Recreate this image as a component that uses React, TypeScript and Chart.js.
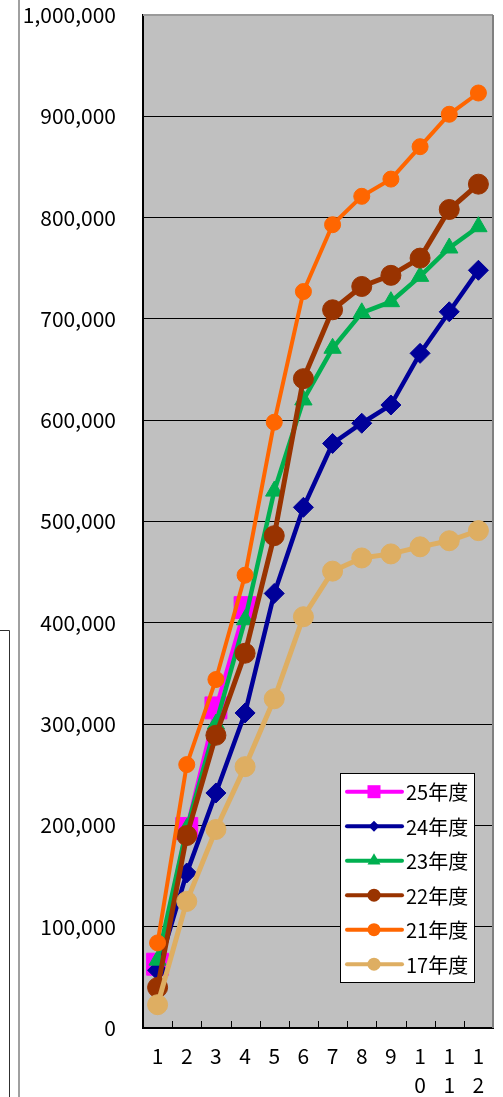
import React, { useEffect, useRef } from 'react';
import { Chart, registerables } from 'chart.js';

Chart.register(...registerables);

// ---- data ----
const months: (string | string[])[] = ['1', '2', '3', '4', '5', '6', '7', '8', '9', ['1', '0'], ['1', '1'], ['1', '2']];
const seriesNames = ['25年度', '24年度', '23年度', '22年度', '21年度', '17年度'];
const fy25 = [63000, 197000, 316000, 415000];
const fy24 = [57000, 153000, 232000, 311000, 429000, 514000, 577000, 597000, 615000, 666000, 707000, 748000];
const fy23 = [67000, 197000, 300000, 403000, 530000, 620000, 671000, 706000, 717000, 742000, 770000, 791000];
const fy22 = [40000, 190000, 289000, 370000, 486000, 641000, 709000, 732000, 743000, 760000, 808000, 833000];
const fy21 = [84000, 260000, 344000, 447000, 598000, 727000, 793000, 821000, 838000, 870000, 902000, 923000];
const fy17 = [23000, 125000, 196000, 258000, 325000, 406000, 451000, 464000, 468000, 475000, 481000, 491000];
const yTicks = [0, 100000, 200000, 300000, 400000, 500000, 600000, 700000, 800000, 900000, 1000000];

const FONT = "'Noto Sans CJK JP', 'Noto Sans', sans-serif";
const W = 503;
const H = 1097;

function drawMarker(ctx: CanvasRenderingContext2D, style: string, x: number, y: number, r: number) {
  ctx.beginPath();
  if (style === 'circle') {
    ctx.arc(x, y, r, 0, Math.PI * 2);
  } else if (style === 'rect') {
    ctx.rect(x - r, y - r, 2 * r, 2 * r);
  } else if (style === 'rectRot') {
    ctx.moveTo(x - r, y);
    ctx.lineTo(x, y - r);
    ctx.lineTo(x + r, y);
    ctx.lineTo(x, y + r);
    ctx.closePath();
  } else if (style === 'triangle') {
    ctx.moveTo(x, y - r);
    ctx.lineTo(x + 0.866 * r, y + 0.5 * r);
    ctx.lineTo(x - 0.866 * r, y + 0.5 * r);
    ctx.closePath();
  }
  ctx.fill();
}

const decoPlugin = {
  id: 'deco',
  beforeDraw(chart: any) {
    const { ctx, chartArea: ca } = chart;
    ctx.save();
    ctx.fillStyle = '#C0C0C0';
    ctx.fillRect(ca.left, ca.top, ca.right - ca.left, ca.bottom - ca.top);
    // stray spreadsheet frame lines on the left
    ctx.strokeStyle = '#808080';
    ctx.lineWidth = 1.5;
    ctx.beginPath();
    ctx.moveTo(19, 0);
    ctx.lineTo(19, chart.height);
    ctx.stroke();
    ctx.strokeStyle = '#303030';
    ctx.lineWidth = 1;
    ctx.beginPath();
    ctx.moveTo(0, 630.5);
    ctx.lineTo(9.5, 630.5);
    ctx.lineTo(9.5, chart.height);
    ctx.stroke();
    ctx.restore();
  },
  afterDraw(chart: any) {
    const { ctx, chartArea: ca } = chart;
    ctx.save();
    // top & right frame
    ctx.strokeStyle = '#9a9a9a';
    ctx.lineWidth = 2;
    ctx.beginPath();
    ctx.moveTo(ca.left, ca.top);
    ctx.lineTo(ca.right, ca.top);
    ctx.stroke();
    ctx.strokeStyle = '#808080';
    ctx.beginPath();
    ctx.moveTo(ca.right, ca.top);
    ctx.lineTo(ca.right, ca.bottom);
    ctx.stroke();
    // inner tick marks on category axis
    ctx.strokeStyle = '#000';
    ctx.lineWidth = 1;
    const n = months.length;
    const step = (ca.right - ca.left) / n;
    for (let i = 1; i < n; i++) {
      const x = Math.round(ca.left + i * step) + 0.5;
      ctx.beginPath();
      ctx.moveTo(x, ca.bottom);
      ctx.lineTo(x, ca.bottom - 7);
      ctx.stroke();
    }
    // legend box
    const lx = ca.right - 153;
    const ly = ca.bottom - 255;
    const lw = 134;
    const lh = 209;
    ctx.fillStyle = '#fff';
    ctx.fillRect(lx, ly, lw, lh);
    ctx.strokeStyle = '#000';
    ctx.lineWidth = 1;
    ctx.strokeRect(lx + 0.5, ly + 0.5, lw, lh);
    const legendR: Record<string, number> = { rect: 6.5, rectRot: 5.5, triangle: 7.5, circle: 6.5 };
    chart.data.datasets.forEach((ds: any, k: number) => {
      const cy = ly + 18.7 + 34.5 * k;
      ctx.strokeStyle = ds.borderColor;
      ctx.lineWidth = 4;
      ctx.lineCap = 'round';
      ctx.beginPath();
      ctx.moveTo(lx + 7, cy);
      ctx.lineTo(lx + 62, cy);
      ctx.stroke();
      ctx.fillStyle = ds.borderColor;
      drawMarker(ctx, ds.pointStyle, lx + 34, cy, legendR[ds.pointStyle]);
      ctx.fillStyle = '#000';
      ctx.font = `20px ${FONT}`;
      ctx.textAlign = 'left';
      ctx.textBaseline = 'middle';
      ctx.fillText(ds.label, lx + 66, cy + 1);
    });
    ctx.restore();
  },
};

function mk(label: string, data: number[], color: string, style: string, radius: number, width: number, order: number) {
  return {
    label,
    data,
    borderColor: color,
    backgroundColor: color,
    pointBackgroundColor: color,
    pointBorderColor: color,
    pointBorderWidth: 1,
    pointStyle: style,
    pointRadius: radius,
    borderWidth: width,
    tension: 0,
    order,
  };
}

export default function App() {
  const ref = useRef<HTMLCanvasElement | null>(null);
  useEffect(() => {
    if (!ref.current) return;
    const chart = new Chart(ref.current, {
      type: 'line',
      data: {
        labels: months as any,
        datasets: [
          mk(seriesNames[0], fy25, '#FF00FF', 'rect', 15.5, 4, 5),
          mk(seriesNames[1], fy24, '#000099', 'rectRot', 10, 4.5, 4),
          mk(seriesNames[2], fy23, '#00B050', 'triangle', 10, 4.5, 3),
          mk(seriesNames[3], fy22, '#993300', 'circle', 10, 5, 2),
          mk(seriesNames[4], fy21, '#FF6600', 'circle', 8, 4, 1),
          mk(seriesNames[5], fy17, '#DEAE62', 'circle', 10, 5, 0),
        ] as any,
      },
      options: {
        animation: false,
        responsive: false,
        devicePixelRatio: 1,
        layout: { autoPadding: false, padding: { left: 0, right: 10, top: 15, bottom: 0 } },
        plugins: { legend: { display: false }, tooltip: { enabled: false } },
        scales: {
          x: {
            type: 'category',
            offset: true,
            grid: {
              display: true,
              drawOnChartArea: false,
              drawTicks: true,
              tickLength: 14,
              tickColor: 'rgba(0,0,0,0)',
              color: 'rgba(0,0,0,0)',
            },
            border: { display: true, color: '#000', width: 2 },
            ticks: {
              color: '#000',
              font: { family: FONT, size: 21, lineHeight: 1.35 },
              padding: 0,
              maxRotation: 0,
              autoSkip: false,
            },
            afterFit: (s: any) => {
              s.height = 69;
              s.paddingLeft = 0;
              s.paddingRight = 0;
            },
          },
          y: {
            min: 0,
            max: 1000000,
            afterBuildTicks: (s: any) => { s.ticks = yTicks.map((v) => ({ value: v })); },
            grid: {
              color: '#000',
              lineWidth: 1,
              drawTicks: true,
              tickLength: 27,
              tickColor: 'rgba(0,0,0,0)',
            },
            border: { display: true, color: '#000', width: 2 },
            ticks: {
              color: '#000',
              font: { family: FONT, size: 21 },
              padding: 0,
              callback: (v: any) => Number(v).toLocaleString('en-US'),
            },
            afterFit: (s: any) => { s.width = 143; },
          },
        },
      },
      plugins: [decoPlugin],
    });
    return () => chart.destroy();
  }, []);
  return (
    <div style={{ position: 'fixed', left: 0, top: 0, width: W, height: H, background: '#fff' }}>
      <canvas ref={ref} width={W} height={H} style={{ display: 'block', width: W, height: H }} />
    </div>
  );
}
